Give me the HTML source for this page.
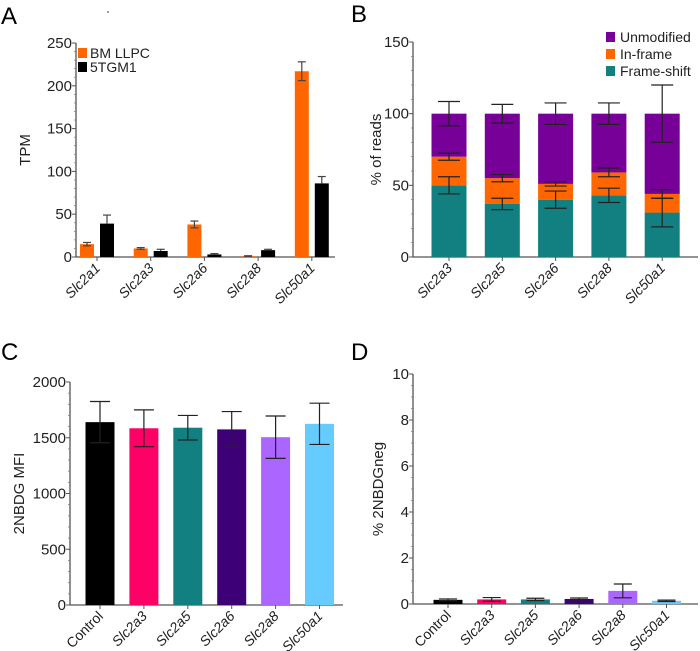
<!DOCTYPE html>
<html><head><meta charset="utf-8"><style>
body{margin:0;background:#fff}svg{display:block;font-family:"Liberation Sans",sans-serif}
</style></head><body>
<svg id="s" width="700" height="651" xmlns="http://www.w3.org/2000/svg">
<text x="1" y="24" font-size="24">A</text>
<text x="351" y="22" font-size="24">B</text>
<text x="1" y="360" font-size="24">C</text>
<text x="351" y="360" font-size="24">D</text>
<line x1="107" y1="12" x2="109" y2="12" stroke="#444"/>
</svg>
<script>
// Panel A data
const aCats=["Slc2a1","Slc2a3","Slc2a6","Slc2a8","Slc50a1"];
const aLLPC=[15,10,38,1,217];
const aLLPCerr=[2,1,4,0.5,11];
const a5TGM=[39,7,3,8,86];
const a5TGMerr=[10,2,1,1,8];
const aTicks=[0,50,100,150,200,250];
// Panel B data
const bCats=["Slc2a3","Slc2a5","Slc2a6","Slc2a8","Slc50a1"];
const bFrame=[50,37,40,43,31];
const bFrameErr=[6,4,6,5,10];
const bIn=[20,18,11,16,13];
const bInErr=[2.5,2.5,1.5,3,3];
const bUnmod=[30,45,49,41,56];
const bUnmodErr=[8.5,6.5,7.5,7.5,20];
const bTicks=[0,50,100,150];
// Panel C data
const cCats=["Control","Slc2a3","Slc2a5","Slc2a6","Slc2a8","Slc50a1"];
const cVals=[1640,1585,1590,1575,1505,1625];
const cErr=[185,165,110,160,190,185];
const cTicks=[0,500,1000,1500,2000];
// Panel D data
const dVals=[0.18,0.2,0.2,0.22,0.57,0.14];
const dErr=[0.04,0.08,0.05,0.04,0.3,0.03];
const dTicks=[0,2,4,6,8,10];
const cdColors=["#000","#ff0066","#128080","#3d0077","#aa66ff","#66ccff"];

const S=document.getElementById('s');
function el(t,a,txt){const e=document.createElementNS('http://www.w3.org/2000/svg',t);for(const k in a)e.setAttribute(k,a[k]);if(txt!==undefined)e.textContent=txt;S.appendChild(e);return e;}
function scale(d0,d1,r0,r1){return v=>r0+(v-d0)/(d1-d0)*(r1-r0);}
function axes(p,ax,x1,y0,yTop,ticks,fmt,title,titleX,cats,catX,minor){
  const y=scale(ticks[0],ticks[ticks.length-1],y0,yTop);
  let e=el('line',{x1:ax,y1:y0,x2:ax,y2:yTop,stroke:'#555','stroke-width':1.3});
  
  e=el('line',{x1:ax,y1:y0,x2:x1,y2:y0,stroke:'#555','stroke-width':1.3});
  
  const st=(ticks[1]-ticks[0])/minor;
  for(let v=ticks[0];v<=ticks[ticks.length-1]+1e-9;v+=st){el('line',{x1:ax-2,y1:y(v),x2:ax,y2:y(v),stroke:'#777','stroke-width':0.7});}
  ticks.forEach(t=>{el('line',{x1:ax-4,y1:y(t),x2:ax,y2:y(t),stroke:'#555'});
    e=el('text',{x:ax-4,y:y(t)+5,'font-size':15,'text-anchor':'end',fill:'#222'},fmt(t));
    });
  const my=(y0+yTop)/2;
  e=el('text',{x:titleX,y:my,'font-size':15,'text-anchor':'middle',transform:`rotate(-90 ${titleX} ${my})`,fill:'#222'},title);
  
  cats.forEach((c,i)=>{const cx=catX(i);el('line',{x1:cx,y1:y0,x2:cx,y2:y0+4,stroke:'#555'});
    e=el('text',{x:cx+4,y:y0+12,'font-size':14,'text-anchor':'end','font-style':c==='Control'?'normal':'italic',transform:`rotate(-45 ${cx+4} ${y0+12})`,fill:'#222'},c);
    });
  return y;
}
function bar(p,x,w,ytop,ybot,col,name){const e=el('rect',{x:x,y:ytop,width:w,height:Math.max(0,ybot-ytop),fill:col});
  }
function err(cx,yv,ylo,yhi,hw,col,both){el('line',{x1:cx,y1:both?ylo:yv,x2:cx,y2:yhi,stroke:col||'#222','stroke-width':1.2});
  el('line',{x1:cx-hw,y1:yhi,x2:cx+hw,y2:yhi,stroke:col||'#222','stroke-width':1.2});
  if(both)el('line',{x1:cx-hw,y1:ylo,x2:cx+hw,y2:ylo,stroke:col||'#222','stroke-width':1.2});}

// A
const aX=i=>97+i*53.7;
const ya=axes('a',76,335,257,43,aTicks,String,'TPM',30,aCats,aX,5);
aCats.forEach((c,i)=>{
  const ox=aX(i)-17,bx=aX(i)+3;
  bar('a',ox,14,ya(aLLPC[i]),257,'#ff6600','bar-bm-llpc-'+c);
  err(ox+7,ya(aLLPC[i]),ya(aLLPC[i]-aLLPCerr[i]),ya(aLLPC[i]+aLLPCerr[i]),4,'#444',true);
  bar('a',bx,14,ya(a5TGM[i]),257,'#000','bar-5tgm1-'+c);
  err(bx+7,ya(a5TGM[i]),ya(a5TGM[i]-a5TGMerr[i]),ya(a5TGM[i]+a5TGMerr[i]),4,'#444',false);
});
let e;
e=el('rect',{x:78,y:48,width:9,height:10,fill:'#ff6600'});
e=el('text',{x:90,y:58,'font-size':14,fill:'#222'},'BM LLPC');
e=el('rect',{x:78,y:62,width:9,height:10,fill:'#000'});
e=el('text',{x:90,y:72,'font-size':14,fill:'#222'},'5TGM1');

// B
const bX=i=>449+i*53.3;
const yb=axes('b',413,698,257,42,bTicks,String,'% of reads',381,bCats,bX,5);
bCats.forEach((c,i)=>{
  const x=bX(i)-17.5,f=bFrame[i],n=f+bIn[i],u=n+bUnmod[i];
  bar('b',x,35,yb(f),yb(0),'#128080','bar-frameshift-'+c);
  bar('b',x,35,yb(n),yb(f),'#ff6600','bar-inframe-'+c);
  bar('b',x,35,yb(u),yb(n),'#770099','bar-unmodified-'+c);
  err(x+17.5,0,yb(u-bUnmodErr[i]),yb(u+bUnmodErr[i]),11,'#222',true);
  err(x+17.5,0,yb(n-bInErr[i]),yb(n+bInErr[i]),11,'#222',true);
  err(x+17.5,0,yb(f-bFrameErr[i]),yb(f+bFrameErr[i]),11,'#222',true);
});
[["Unmodified","#770099",37],["In-frame","#ff6600",54],["Frame-shift","#128080",71]].forEach(l=>{
  e=el('rect',{x:606,y:l[2]-5,width:9,height:10,fill:l[1]});
  e=el('text',{x:620,y:l[2]+5,'font-size':14,fill:'#222'},l[0]);
});

// C
const cX=i=>100+i*43.9;
const yc=axes('c',70,343,605,382,cTicks,String,'2NBDG MFI',24,cCats,cX,5);
cCats.forEach((c,i)=>{
  bar('c',cX(i)-14.5,29,yc(cVals[i]),605,cdColors[i],'bar-mfi-'+c);
  err(cX(i),0,yc(cVals[i]-cErr[i]),yc(cVals[i]+cErr[i]),10,'#222',true);
});

// D
const dX=i=>448+i*43.7;
const yd=axes('d',413,698,604,374,dTicks,String,'% 2NBDGneg',383,cCats,dX,4);
cCats.forEach((c,i)=>{
  bar('d',dX(i)-14.5,29,yd(dVals[i]),604,cdColors[i],'bar-neg-'+c);
  err(dX(i),0,yd(dVals[i]-dErr[i]),yd(dVals[i]+dErr[i]),9,'#222',true);
});
</script>
</body></html>
